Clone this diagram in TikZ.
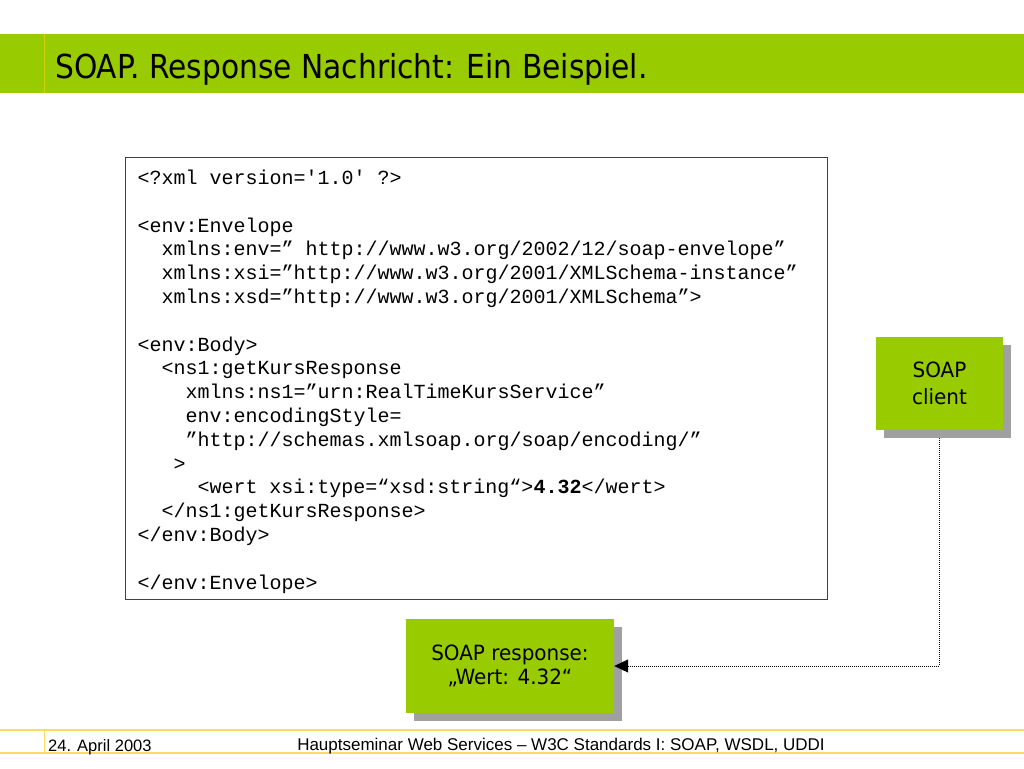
\documentclass[tikz,border=0pt]{standalone}
\usepackage{fontspec}
\setmainfont{Liberation Sans}
\setmonofont{Liberation Mono}
\newfontfamily\tahomalike[FakeStretch=0.9]{DejaVu Sans}
\newfontfamily\boxfont[FakeStretch=0.95]{DejaVu Sans}
\usetikzlibrary{positioning,calc,arrows.meta,shadows}
\definecolor{slidegreen}{HTML}{99CC00}
\definecolor{shadowgray}{HTML}{A0A0A0}
\definecolor{footyellow}{HTML}{FFD966}
\definecolor{barline}{HTML}{CCD600}
\definecolor{codeframe}{HTML}{404040}
\newlength\codecw
\setlength\codecw{12pt}
\newcommand{\codeind}[1]{\hspace*{#1\codecw}}
\tikzset{/soap/box/.style={rectangle, fill=slidegreen, align=center, inner sep=0pt,
drop shadow={shadow xshift=8pt, shadow yshift=-8pt, fill=shadowgray, opacity=1}
}}
\tikzset{/soap/code/.style={rectangle, draw=codeframe, line width=1pt, fill=white, align=left, inner xsep=12pt, inner ysep=6pt, font=\ttfamily\fontsize{20pt}{23.8pt}\selectfont
}}
\tikzset{/soap/foot/.style={draw=footyellow, line width=2pt
}}
\begin{document}
\begin{tikzpicture}[x=1pt,y=-1pt]
	\useasboundingbox (0,0) rectangle (1024,768);
	% title bar
	\fill[slidegreen] (0,34) rectangle (1024,93);
	\draw[barline, line width=1pt] (44,34) -- (44,93);
	\node[anchor=base west, inner sep=0pt, font=\tahomalike\fontsize{33pt}{40pt}\selectfont] (title) at (55,78) {SOAP. Response Nachricht: Ein Beispiel.};
	% message
	\node[/soap/code, anchor=north west, minimum width=702pt, minimum height=441pt, text width=678pt] (xmlcode) at (125,157) {%
		\spaceskip=12pt\relax\xspaceskip=12pt\relax
		\rule{0pt}{21pt}<?xml version='1.0' ?>\\
		\mbox{}\\
		<env:Envelope\\
		\codeind{2}xmlns:env=” http://www.w3.org/2002/12/soap-envelope”\\
		\codeind{2}xmlns:xsi=”http://www.w3.org/2001/XMLSchema-instance”\\
		\codeind{2}xmlns:xsd=”http://www.w3.org/2001/XMLSchema”>\\
		\mbox{}\\
		<env:Body>\\
		\codeind{2}<ns1:getKursResponse\\
		\codeind{4}xmlns:ns1=”urn:RealTimeKursService”\\
		\codeind{4}env:encodingStyle=\\
		\codeind{4}”http://schemas.xmlsoap.org/soap/encoding/”\\
		\codeind{3}>\\
		\codeind{5}<wert xsi:type=“xsd:string“>\textbf{4.32}</wert>\\
		\codeind{2}</ns1:getKursResponse>\\
		</env:Body>\\
		\mbox{}\\
		</env:Envelope>};
	% boxes
	\node[/soap/box, minimum width=127pt, minimum height=93pt, font=\boxfont\fontsize{21pt}{27pt}\selectfont] (client) at (939.5,383.5) {SOAP\\client};
	\node[/soap/box, minimum width=208pt, minimum height=94pt, font=\boxfont\fontsize{21pt}{24pt}\selectfont] (response) at (510,666) {SOAP response:\\„Wert: 4.32“};
	\coordinate (clientfoot) at ([yshift=-8pt]client.south);
	\draw[densely dotted, line width=1pt, -{Triangle[length=14pt,width=13pt]}] (clientfoot) |- (response.east);
	% footer
	\draw[/soap/foot] (0,730) -- (1024,730);
	\draw[/soap/foot] (0,753) -- (1024,753);
	\draw[footyellow, line width=1pt] (44,730) -- (44,753);
	\node[anchor=base west, inner sep=0pt, font=\fontsize{16.5pt}{20pt}\selectfont] (date) at (48,751) {24. April 2003};
	\node[anchor=base, inner sep=0pt, font=\fontsize{17pt}{20pt}\selectfont] (seminar) at (561,750) {Hauptseminar Web Services – W3C Standards I: SOAP, WSDL, UDDI};
\end{tikzpicture}
\end{document}
